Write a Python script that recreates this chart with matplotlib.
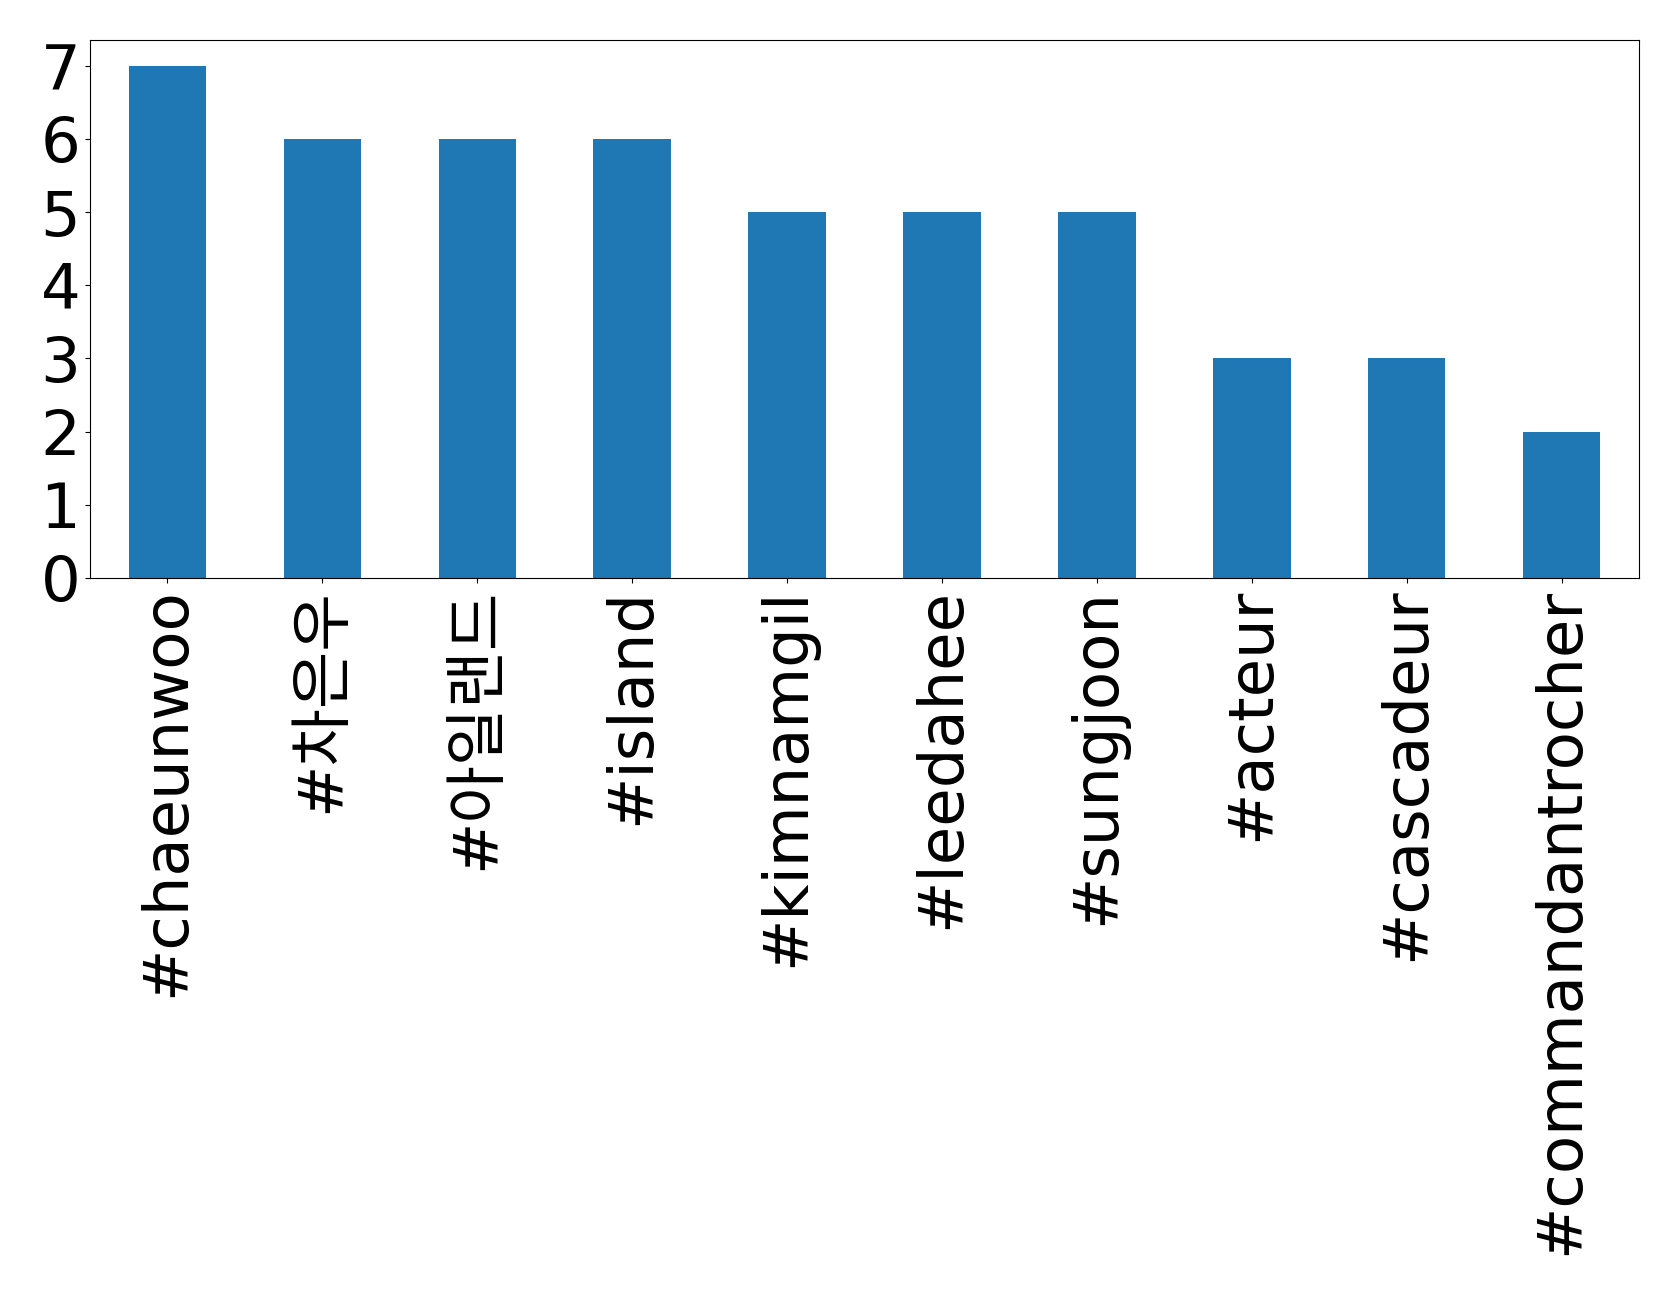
import matplotlib
matplotlib.use("Agg")
import matplotlib.pyplot as plt
import numpy as np

# hashtag counts
tags = ["#chaeunwoo", "#차은우", "#아일랜드", "#island", "#kimnamgil",
        "#leedahee", "#sungjoon", "#acteur", "#cascadeur", "#commandantrocher"]
counts = [7, 6, 6, 6, 5, 5, 5, 3, 3, 2]

plt.rcParams['font.family'] = ['DejaVu Sans', 'Noto Sans CJK KR']

fig = plt.figure(figsize=(16.79, 12.95), dpi=100)
ax = fig.add_axes([0.0536, 0.5537, 0.9226, 0.4153])

x = np.arange(len(tags))
ax.bar(x, counts, width=0.5, color='#1f77b4')
ax.set_xlim(-0.5, len(tags) - 0.5)
ax.set_ylim(0, 7.35)
ax.set_xticks(x)
ax.set_xticklabels(tags, rotation=90, fontsize=45)
ax.set_yticks(range(0, 8))
ax.tick_params(axis='y', labelsize=45)

fig.savefig("out.png", dpi=100)
